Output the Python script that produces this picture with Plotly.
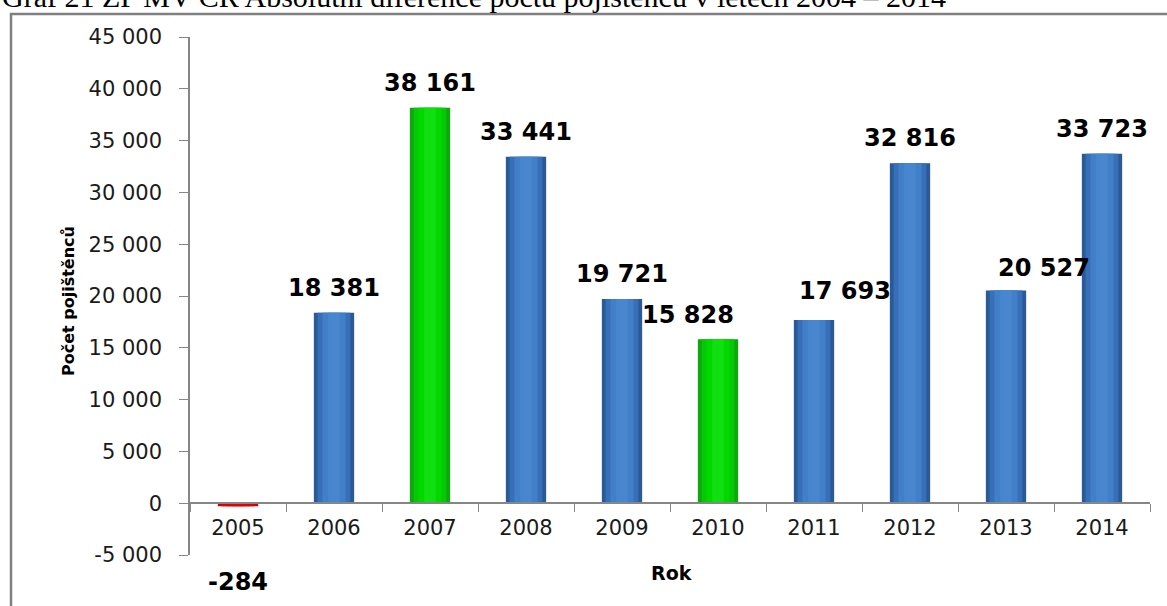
import plotly.graph_objects as go

# ---- data ----
years = ["2005", "2006", "2007", "2008", "2009", "2010", "2011", "2012", "2013", "2014"]
diffs = [-284, 18381, 38161, 33441, 19721, 15828, 17693, 32816, 20527, 33723]
y_ticks = [-5000, 0, 5000, 10000, 15000, 20000, 25000, 30000, 35000, 40000, 45000]

title_text = "Graf 21 ZP MV ČR Absolutní diference počtu pojištěnců v letech 2004 – 2014"
y_title = "Počet pojištěnců"
x_title = "Rok"

# ---- styles ----
W, H = 1167, 606
kind = ["red", "blue", "green", "blue", "blue", "green", "blue", "blue", "blue", "blue"]
palette = {
    "blue": ["#2b5a98", "#3870b8", "#417fc9", "#4887d0"],
    "green": ["#0ca80c", "#06c806", "#00d800", "#10e010"],
    "red": ["#d00000", "#e00000", "#e40000", "#e80000"],
}
layer_widths = [0.42, 0.34, 0.24, 0.12]
# label offsets (px) as placed in the reference
label_dx = [0, 0, 0, 0, 0, -30, 31, 0, 38, 0]
label_dy = [-76, 25, 25, 25, 25, 24, 29, 25, 23, 25]

def fmt(v):
    return f"{v:,}".replace(",", " ")

fig = go.Figure()
for li, w in enumerate(layer_widths):
    fig.add_trace(go.Bar(
        x=years, y=diffs, width=w,
        marker=dict(color=[palette[k][li] for k in kind], line=dict(width=0)),
        showlegend=False, hoverinfo="x+y" if li == 0 else "skip",
    ))

font_family = "DejaVu Sans"

annotations = []
for i, (v, dx, dy) in enumerate(zip(diffs, label_dx, label_dy)):
    annotations.append(dict(
        x=i, y=v, xref="x", yref="y", text=fmt(v), showarrow=False,
        xanchor="center", yanchor="middle", xshift=dx, yshift=dy,
        font=dict(family=font_family, size=24, color="#000000", weight=700),
    ))

annotations.append(dict(
    x=0 / W, y=(H - 15) / H, xref="paper", yref="paper", text=title_text,
    showarrow=False, xanchor="left", yanchor="bottom",
    font=dict(family="Liberation Serif", size=30, color="#000000"),
))
annotations.append(dict(
    x=68 / W, y=(H - 301) / H, xref="paper", yref="paper", text=y_title,
    showarrow=False, xanchor="center", yanchor="middle", textangle=-90,
    font=dict(family=font_family, size=16, color="#000000", weight=700),
))
annotations.append(dict(
    x=671 / W, y=(H - 573) / H, xref="paper", yref="paper", text=x_title,
    showarrow=False, xanchor="center", yanchor="middle",
    font=dict(family=font_family, size=19, color="#000000", weight=700),
))

y_bottom_px, y_top_px = 555, 37
zero_px = 503

fig.update_layout(
    width=W, height=H,
    margin=dict(l=0, r=0, t=0, b=0, autoexpand=False),
    paper_bgcolor="white", plot_bgcolor="white",
    barmode="overlay",
    showlegend=False,
    font=dict(family=font_family, color="#1a1a1a"),
    annotations=annotations,
    xaxis=dict(
        type="category", categoryorder="array", categoryarray=years,
        range=[-0.5, len(years) - 0.5],
        domain=[190 / W, 1150 / W],
        anchor="free", position=(H - zero_px) / H,
        showline=True, linecolor="#868686", linewidth=1.5,
        ticks="outside", tickson="boundaries", ticklen=8, tickcolor="#868686",
        tickfont=dict(size=21, color="#1a1a1a"),
        ticklabelstandoff=6, tickangle=0,
        showgrid=False, zeroline=False, automargin=False,
    ),
    yaxis=dict(
        domain=[(H - y_bottom_px) / H, (H - y_top_px) / H],
        range=[-5000, 45000],
        tickvals=y_ticks, ticktext=[fmt(t) for t in y_ticks],
        showline=True, linecolor="#868686", linewidth=1.5,
        ticks="outside", ticklen=9, tickcolor="#868686",
        tickfont=dict(size=21, color="#1a1a1a"),
        ticklabelstandoff=13,
        showgrid=False, zeroline=False, automargin=False,
    ),
    shapes=[dict(
        type="rect", xref="paper", yref="paper",
        x0=11 / W, x1=1.02, y0=-0.02, y1=(H - 14) / H,
        line=dict(color="#808080", width=2.5), layer="below",
    )],
)

fig.write_html(
    "out.html",
    config={"displayModeBar": False},
    post_script="document.body.style.margin='0';document.body.style.overflow='hidden';",
)
